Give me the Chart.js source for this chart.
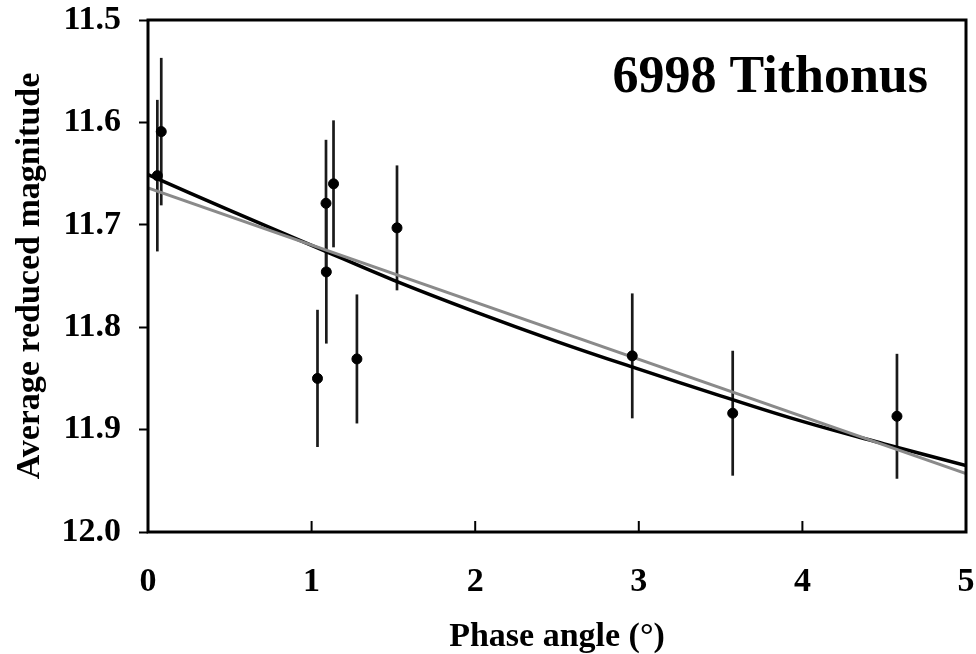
<!DOCTYPE html>
<html>
<head>
<meta charset="utf-8">
<title>6998 Tithonus</title>
<script src="https://cdn.jsdelivr.net/npm/chart.js@4/dist/chart.umd.min.js"></script>
<style>
  html, body { margin: 0; padding: 0; background: #fff; }
  #wrap { width: 976px; height: 654px; }
</style>
</head>
<body>
<div id="wrap"><canvas id="myChart"></canvas></div>
<script>
// observations: phase angle (deg), average reduced magnitude, 1-sigma error
const phase = [0.057, 0.081, 1.036, 1.088, 1.090, 1.134, 1.277, 1.522, 2.960, 3.574, 4.578];
const magnitude = [11.652, 11.609, 11.850, 11.679, 11.746, 11.660, 11.831, 11.703, 11.828, 11.884, 11.887];
const magError = [0.074, 0.072, 0.067, 0.062, 0.070, 0.062, 0.063, 0.061, 0.061, 0.061, 0.061];

// black fitted phase curve
const fitPhase = [0, 0.5, 1, 1.5, 2, 2.5, 3, 3.5, 4, 4.5, 5];
const fitMag = [11.651, 11.686, 11.720, 11.754, 11.785, 11.814, 11.841, 11.867, 11.892, 11.914, 11.935];

// grey linear fit
const linPhase = [0, 5];
const linMag = [11.664, 11.943];

const titleText = "6998 Tithonus";
const xTitle = "Phase angle (\u00B0)";
const yTitle = "Average reduced magnitude";

const Chart = window.Chart;
Chart.defaults.font.family = "'Liberation Serif', 'Times New Roman', serif";
Chart.defaults.font.weight = "bold";
Chart.defaults.color = "#000";

const toPoints = (xs, ys) => xs.map((x, i) => ({x: x, y: ys[i]}));

const errorBars = {
  id: "errorBars",
  beforeDatasetsDraw(chart)
  {
    const {ctx, scales: {x, y}} = chart;
    ctx.save();
    ctx.strokeStyle = "#1a1a1a";
    ctx.lineWidth = 2.7;
    phase.forEach((p, i) =>
    {
      const px = x.getPixelForValue(p);
      ctx.beginPath();
      ctx.moveTo(px, y.getPixelForValue(magnitude[i] - magError[i]));
      ctx.lineTo(px, y.getPixelForValue(magnitude[i] + magError[i]));
      ctx.stroke();
    });
    ctx.restore();
  }
};

const frame = {
  id: "frame",
  afterDatasetsDraw(chart)
  {
    const {ctx, chartArea: a, scales: {x}} = chart;
    ctx.save();
    ctx.strokeStyle = "#000";
    // inward ticks on the x axis
    ctx.lineWidth = 2;
    x.ticks.forEach(t =>
    {
      const px = x.getPixelForValue(t.value);
      ctx.beginPath();
      ctx.moveTo(px, a.bottom);
      ctx.lineTo(px, a.bottom - 11);
      ctx.stroke();
    });
    ctx.lineWidth = 3;
    ctx.strokeRect(a.left, a.top, a.right - a.left, a.bottom - a.top);
    // label inside the plot
    ctx.fillStyle = "#000";
    ctx.font = "bold 52px 'Liberation Serif', 'Times New Roman', serif";
    ctx.textAlign = "right";
    ctx.textBaseline = "alphabetic";
    ctx.fillText(titleText, a.right - 38, a.top + 72);
    ctx.restore();
  }
};

new Chart(document.getElementById("myChart"), {
  type: "scatter",
  data: {
    datasets: [
      {
        label: "observations",
        data: toPoints(phase, magnitude),
        backgroundColor: "#000",
        borderColor: "#000",
        pointRadius: 5,
        pointHoverRadius: 5,
      },
      {
        label: "linear",
        data: toPoints(linPhase, linMag),
        showLine: true,
        borderColor: "#8a8a8a",
        borderWidth: 3,
        pointRadius: 0,
      },
      {
        label: "phase function",
        data: toPoints(fitPhase, fitMag),
        showLine: true,
        borderColor: "#000",
        borderWidth: 3.5,
        pointRadius: 0,
        tension: 0.4,
      },
    ],
  },
  options: {
    responsive: true,
    maintainAspectRatio: false,
    animation: false,
    devicePixelRatio: 1,
    layout: {padding: {top: 20, right: 10, bottom: 0, left: 0}},
    plugins: {
      legend: {display: false},
      tooltip: {enabled: false},
    },
    scales: {
      x: {
        type: "linear",
        min: 0,
        max: 5,
        ticks: {stepSize: 1, padding: 30, font: {size: 34}},
        grid: {display: false, drawTicks: false},
        border: {display: false},
        title: {display: true, text: xTitle, font: {size: 34}, padding: {top: 0, bottom: -4}},
        afterFit(scale)
        {
          scale.height = 122;
          scale.paddingLeft = 0;
          scale.paddingRight = 0;
        },
      },
      y: {
        type: "linear",
        reverse: true,
        min: 11.5,
        max: 12.0,
        ticks: {
          stepSize: 0.1,
          padding: 18,
          font: {size: 34},
          callback: v => Number(v).toFixed(1),
        },
        grid: {drawOnChartArea: false, tickLength: 9, tickWidth: 2, tickColor: "#000"},
        border: {display: false},
        title: {display: true, text: yTitle, font: {size: 34}, padding: {top: 10}},
        afterFit(scale)
        {
          scale.width = 148;
          scale.paddingTop = 0;
          scale.paddingBottom = 0;
        },
      },
    },
  },
  plugins: [errorBars, frame],
});
</script>
</body>
</html>
